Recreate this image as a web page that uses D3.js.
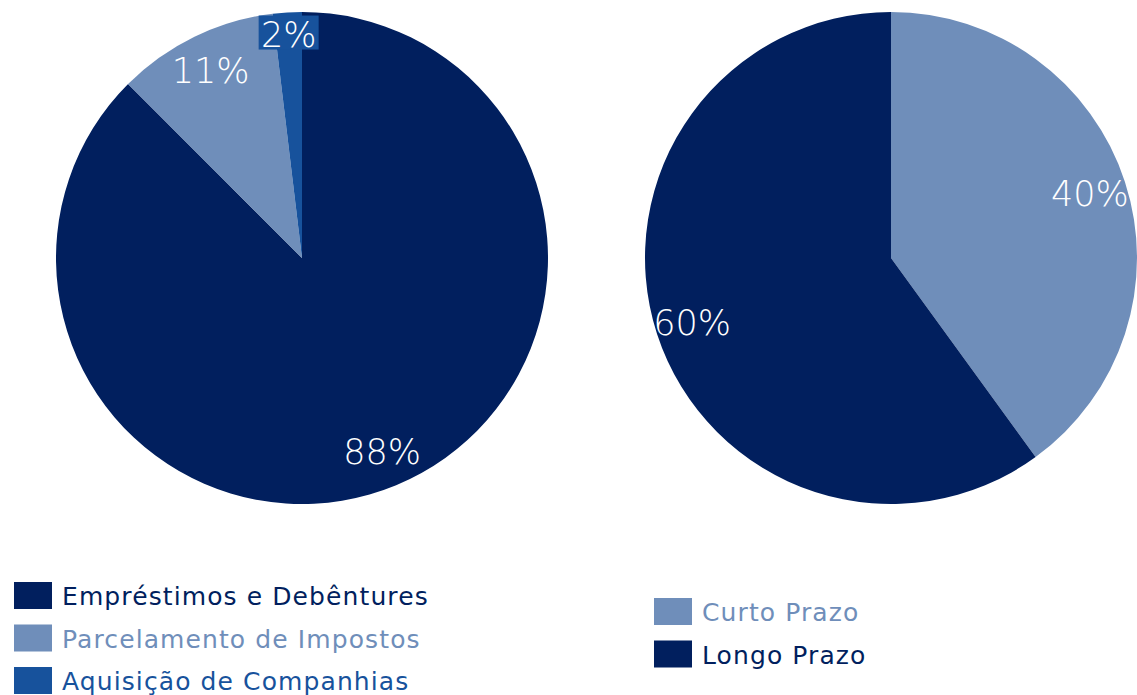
<!DOCTYPE html>
<html>
<head>
<meta charset="utf-8">
<script src="https://cdn.jsdelivr.net/npm/d3@7"></script>
<style>
  body { margin: 0; background: #fff; }
  svg { display: block; font-family: 'DejaVu Sans', sans-serif; }
</style>
</head>
<body>
<svg id="chart"></svg>
<script>
// ---- DATA ----
const debtCategories = ['Empréstimos e Debêntures', 'Parcelamento de Impostos', 'Aquisição de Companhias'];
const debtValues = [87.5, 10.6, 1.9];
const debtLabels = ['88%', '11%', '2%'];

const termCategories = ['Curto Prazo', 'Longo Prazo'];
const termValues = [40, 60];
const termLabels = ['40%', '60%'];

const NAVY = '#011f5e';
const LIGHT = '#6f8eba';
const MID = '#17529c';

const width = 1137, height = 695;
const radius = 246;

const svg = d3.select('#chart')
  .attr('width', width)
  .attr('height', height);

// draws one pie, starting at 12 o'clock, going clockwise
function drawPie(cx, cy, cats, values, labels, colors, boxed) {
  const color = d3.scaleOrdinal().domain(cats).range(colors);
  const pie = d3.pie().sort(null).value(d => d.v);
  const arcs = pie(cats.map((c, i) => ({c: c, v: values[i], label: labels[i]})));

  const arc = d3.arc().innerRadius(0).outerRadius(radius);
  const labelArc = d3.arc().innerRadius(radius * 0.85).outerRadius(radius * 0.85);
  const boxArc = d3.arc().innerRadius(radius * 0.91).outerRadius(radius * 0.91);

  const g = svg.append('g').attr('transform', `translate(${cx},${cy})`);

  g.selectAll('path')
    .data(arcs)
    .join('path')
    .attr('d', arc)
    .attr('fill', d => color(d.data.c));

  const lbl = g.selectAll('.lbl')
    .data(arcs)
    .join('g')
    .attr('class', 'lbl')
    .attr('transform', d => {
      const p = (boxed.includes(d.index) ? boxArc : labelArc).centroid(d);
      return `translate(${p[0]},${p[1]})`;
    });

  // small slices get a filled box behind their label
  lbl.filter(d => boxed.includes(d.index))
    .append('rect')
    .attr('x', -30).attr('y', -19)
    .attr('width', 60).attr('height', 34)
    .attr('fill', d => color(d.data.c));

  lbl.append('text')
    .attr('text-anchor', 'middle')
    .attr('dy', '0.36em')
    .attr('fill', '#fff')
    .attr('font-size', 35)
    .attr('font-weight', 200)
    .text(d => d.data.label);
}

drawPie(302, 258, debtCategories, debtValues, debtLabels, [NAVY, LIGHT, MID], [2]);
drawPie(891, 258, termCategories, termValues, termLabels, [LIGHT, NAVY], []);

// ---- LEGENDS ----
function drawLegend(x, y, cats, colors) {
  const rows = svg.append('g')
    .attr('transform', `translate(${x},${y})`)
    .selectAll('g')
    .data(cats)
    .join('g')
    .attr('transform', (d, i) => `translate(0,${i * 42.5})`);

  rows.append('rect')
    .attr('width', 38).attr('height', 27)
    .attr('fill', (d, i) => colors[i]);

  rows.append('text')
    .attr('x', 48)
    .attr('y', 23)
    .attr('font-size', 25)
    .attr('letter-spacing', 1.1)
    .attr('fill', (d, i) => colors[i])
    .text(d => d);
}

drawLegend(14, 582, debtCategories, [NAVY, LIGHT, MID]);
drawLegend(654, 598, termCategories, [LIGHT, NAVY]);
</script>
</body>
</html>
